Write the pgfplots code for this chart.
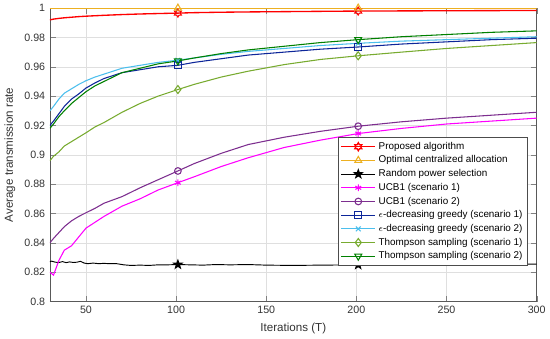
\documentclass[border=0pt]{standalone}
\usepackage{pgfplots}
\pgfplotsset{compat=1.18}
\usepackage{fontspec}
\setmainfont{Liberation Sans}
\usetikzlibrary{plotmarks}
\definecolor{cOpt}{rgb}{0.93,0.69,0.13}
\definecolor{cPur}{rgb}{0.49,0.18,0.56}
\definecolor{cNavy}{rgb}{0.05,0.15,0.6}
\definecolor{cLb}{rgb}{0.30,0.75,0.93}
\definecolor{cYg}{rgb}{0.47,0.67,0.19}
\definecolor{cGr}{rgb}{0,0.5,0}
\definecolor{cMag}{rgb}{1,0,1}
\pgfdeclareplotmark{pentastar}{%
  \pgfpathmoveto{\pgfpointpolar{90}{\pgfplotmarksize}}%
  \pgfpathlineto{\pgfpointpolar{126}{0.4\pgfplotmarksize}}%
  \pgfpathlineto{\pgfpointpolar{162}{\pgfplotmarksize}}%
  \pgfpathlineto{\pgfpointpolar{198}{0.4\pgfplotmarksize}}%
  \pgfpathlineto{\pgfpointpolar{234}{\pgfplotmarksize}}%
  \pgfpathlineto{\pgfpointpolar{270}{0.4\pgfplotmarksize}}%
  \pgfpathlineto{\pgfpointpolar{306}{\pgfplotmarksize}}%
  \pgfpathlineto{\pgfpointpolar{342}{0.4\pgfplotmarksize}}%
  \pgfpathlineto{\pgfpointpolar{18}{\pgfplotmarksize}}%
  \pgfpathlineto{\pgfpointpolar{54}{0.4\pgfplotmarksize}}%
  \pgfpathclose\pgfusepathqfillstroke}
\pgfdeclareplotmark{hexastar}{%
  \pgfpathmoveto{\pgfpointpolar{90}{\pgfplotmarksize}}%
  \pgfpathlineto{\pgfpointpolar{120}{0.58\pgfplotmarksize}}%
  \pgfpathlineto{\pgfpointpolar{150}{\pgfplotmarksize}}%
  \pgfpathlineto{\pgfpointpolar{180}{0.58\pgfplotmarksize}}%
  \pgfpathlineto{\pgfpointpolar{210}{\pgfplotmarksize}}%
  \pgfpathlineto{\pgfpointpolar{240}{0.58\pgfplotmarksize}}%
  \pgfpathlineto{\pgfpointpolar{270}{\pgfplotmarksize}}%
  \pgfpathlineto{\pgfpointpolar{300}{0.58\pgfplotmarksize}}%
  \pgfpathlineto{\pgfpointpolar{330}{\pgfplotmarksize}}%
  \pgfpathlineto{\pgfpointpolar{0}{0.58\pgfplotmarksize}}%
  \pgfpathlineto{\pgfpointpolar{30}{\pgfplotmarksize}}%
  \pgfpathlineto{\pgfpointpolar{60}{0.58\pgfplotmarksize}}%
  \pgfpathclose\pgfusepathqstroke}
\begin{document}
\begin{tikzpicture}
\begin{axis}[
  scale only axis, width=365pt, height=220pt,
  xmin=30, xmax=300, ymin=0.8, ymax=1,
  xtick={50,100,150,200,250,300},
  ytick={0.8,0.82,0.84,0.86,0.88,0.9,0.92,0.94,0.96,0.98,1},
  yticklabel style={/pgf/number format/.cd,fixed,precision=2},
  /pgf/number format/assume math mode=true,
  grid=major, major grid style={gray!25},
  tick align=inside, tick pos=both,
  axis line style={gray!70!black},
  tick label style={font=\fontsize{8}{9}\selectfont, text=black!80},
  label style={font=\fontsize{8.7}{10}\selectfont, text=black!80},
  xlabel={Iterations (T)}, ylabel={Average transmission rate},
  legend style={at={(0.981,0.56)}, anchor=north east, font=\fontsize{7.4}{8.4}\selectfont, draw=black!70, row sep=-0.6pt, inner sep=1.5pt},
  legend cell align=left,
  legend image code/.code={\draw[mark repeat=2,mark phase=2] plot coordinates {(0cm,0cm)(0.45cm,0cm)(0.9cm,0cm)};},
  every axis plot/.append style={line width=0.8pt, mark size=2.5pt},
]
\addlegendimage{red, line width=1pt, mark=hexastar, mark size=3pt}
\addlegendentry{Proposed algorithm}
\addlegendimage{cOpt, mark=triangle, mark size=3pt}
\addlegendentry{Optimal centralized allocation}
\addlegendimage{black, mark=pentastar, mark options={fill=black}, mark size=3.2pt}
\addlegendentry{Random power selection}
\addlegendimage{cMag, mark=asterisk}
\addlegendentry{UCB1 (scenario 1)}
\addlegendimage{cPur, mark=o}
\addlegendentry{UCB1 (scenario 2)}
\addlegendimage{cNavy, mark=square}
\addlegendentry{$\epsilon$-decreasing greedy (scenario 1)}
\addlegendimage{cLb, mark=x}
\addlegendentry{$\epsilon$-decreasing greedy (scenario 2)}
\addlegendimage{cYg, mark=diamond, mark size=3pt}
\addlegendentry{Thompson sampling (scenario 1)}
\addlegendimage{cGr, mark=triangle, mark size=3pt, mark options={rotate=180}}
\addlegendentry{Thompson sampling (scenario 2)}

\addplot[red, line width=1pt, no marks, forget plot] coordinates {
(30,0.9920)(32,0.9925)(35,0.9930)(38,0.9934)(42,0.9938)(46,0.9942)(50,0.9945)(55,0.9948)(60,0.9951)(70,0.9956)(80,0.9960)(90,0.9963)(101,0.9966)(110,0.9969)(125,0.9972)(140,0.9974)(160,0.9976)(180,0.9978)(201,0.9980)(225,0.9981)(250,0.9982)(275,0.9983)(300,0.9984)};
\addplot[red, only marks, mark=hexastar, mark size=3pt, forget plot] coordinates {(101,0.9966)(201,0.9980)};
\addplot[cOpt, no marks, forget plot] coordinates {(30,1)(101,1)(201,1)(300,1)};
\addplot[cOpt, only marks, mark=triangle, mark size=3pt, forget plot] coordinates {(101,1)(201,1)};
\addplot[black, line width=0.7pt, no marks, forget plot] coordinates {
(30,0.8272)(31,0.8275)(33,0.8268)(35,0.8266)(37,0.8272)(39,0.8265)(41,0.8270)(43,0.8266)(45,0.8268)(47,0.8274)(49,0.8262)(51,0.8258)(54,0.8262)(57,0.8258)(60,0.8260)(63,0.8258)(67,0.8258)(71,0.8250)(75,0.8246)(80,0.8248)(85,0.8246)(90,0.8250)(95,0.8250)(101,0.8252)(108,0.8250)(115,0.8248)(122,0.8252)(130,0.8250)(140,0.8252)(150,0.8248)(165,0.8246)(180,0.8248)(201,0.8250)(215,0.8250)(230,0.8252)(250,0.8252)(270,0.8254)(285,0.8254)(300,0.8255)};
\addplot[black, only marks, mark=pentastar, mark options={fill=black}, mark size=3.2pt, forget plot] coordinates {(101,0.8252)(201,0.8250)};
\addplot[cMag, no marks, forget plot] coordinates {
(30,0.8200)(32,0.8180)(35,0.8280)(38,0.8350)(42,0.8380)(46,0.8440)(50,0.8500)(55,0.8540)(60,0.8580)(70,0.8650)(80,0.8700)(90,0.8760)(101,0.8810)(110,0.8850)(125,0.8920)(140,0.8980)(160,0.9050)(180,0.9100)(201,0.9145)(225,0.9180)(250,0.9210)(275,0.9230)(300,0.9250)};
\addplot[cMag, only marks, mark=asterisk, forget plot] coordinates {(101,0.8810)(201,0.9145)};
\addplot[cPur, no marks, forget plot] coordinates {
(30,0.8400)(32,0.8430)(35,0.8470)(38,0.8510)(42,0.8550)(46,0.8580)(50,0.8605)(55,0.8635)(60,0.8670)(70,0.8715)(80,0.8775)(90,0.8830)(101,0.8890)(110,0.8940)(125,0.9010)(140,0.9070)(160,0.9120)(180,0.9160)(201,0.9195)(225,0.9225)(250,0.9250)(275,0.9270)(300,0.9290)};
\addplot[cPur, only marks, mark=o, forget plot] coordinates {(101,0.8890)(201,0.9195)};
\addplot[cNavy, no marks, forget plot] coordinates {
(30,0.9200)(32,0.9230)(35,0.9280)(38,0.9330)(42,0.9380)(46,0.9415)(50,0.9455)(55,0.9490)(60,0.9520)(70,0.9560)(80,0.9580)(90,0.9600)(101,0.9610)(110,0.9630)(125,0.9655)(140,0.9680)(160,0.9700)(180,0.9720)(201,0.9735)(225,0.9755)(250,0.9770)(275,0.9785)(300,0.9795)};
\addplot[cNavy, only marks, mark=square, forget plot] coordinates {(101,0.9610)(201,0.9735)};
\addplot[cLb, no marks, forget plot] coordinates {
(30,0.9300)(32,0.9330)(35,0.9380)(38,0.9420)(42,0.9450)(46,0.9480)(50,0.9505)(55,0.9530)(60,0.9550)(70,0.9590)(80,0.9610)(90,0.9630)(101,0.9645)(110,0.9660)(125,0.9685)(140,0.9705)(160,0.9725)(180,0.9745)(201,0.9760)(225,0.9775)(250,0.9785)(275,0.9795)(300,0.9805)};
\addplot[cLb, only marks, mark=x, forget plot] coordinates {(101,0.9645)(201,0.9760)};
\addplot[cYg, no marks, forget plot] coordinates {
(30,0.8960)(32,0.8990)(35,0.9020)(38,0.9060)(42,0.9090)(46,0.9120)(50,0.9150)(55,0.9190)(60,0.9220)(70,0.9290)(80,0.9350)(90,0.9400)(101,0.9445)(110,0.9480)(125,0.9530)(140,0.9570)(160,0.9615)(180,0.9650)(201,0.9675)(225,0.9700)(250,0.9725)(275,0.9745)(300,0.9765)};
\addplot[cYg, only marks, mark=diamond, mark size=3pt, forget plot] coordinates {(101,0.9445)(201,0.9675)};
\addplot[cGr, no marks, forget plot] coordinates {
(30,0.9180)(32,0.9210)(35,0.9260)(38,0.9300)(42,0.9350)(46,0.9390)(50,0.9430)(55,0.9470)(60,0.9500)(70,0.9560)(80,0.9590)(90,0.9620)(101,0.9640)(110,0.9660)(125,0.9690)(140,0.9715)(160,0.9740)(180,0.9765)(201,0.9785)(225,0.9805)(250,0.9820)(275,0.9835)(300,0.9845)};
\addplot[cGr, only marks, mark=triangle, mark size=3pt, mark options={rotate=180}, forget plot] coordinates {(101,0.9640)(201,0.9785)};
\end{axis}
\end{tikzpicture}
\end{document}
